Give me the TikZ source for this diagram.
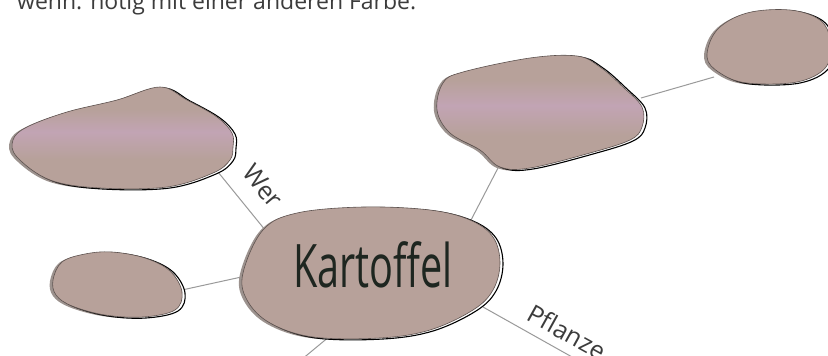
\documentclass[tikz,border=0pt]{standalone}
\usepackage{fontspec}
\usepackage{graphicx}
\setmainfont{Open Sans}
\definecolor{blobc}{HTML}{B7A19A}
\definecolor{pinkc}{HTML}{C2A4B4}
\definecolor{shadowc}{HTML}{9C928E}
\definecolor{edgec}{HTML}{5E5350}
\definecolor{linec}{HTML}{9A9A9A}
\definecolor{txtc}{HTML}{3C3C3C}
\definecolor{kartc}{HTML}{1E2620}
\pgfdeclareverticalshading{pinkband}{100bp}{color(0bp)=(blobc); color(40bp)=(blobc); color(53bp)=(pinkc); color(64bp)=(blobc); color(100bp)=(blobc)}
\newcommand{\drawblob}[2]{%
  \fill[shadowc, shift={(-3,1)}] plot[smooth cycle, tension=0.6] coordinates {#1};
  \draw[black, line width=1.1pt, fill=white, shift={(3,1)}] plot[smooth cycle, tension=0.6] coordinates {#1};
  \path[#2] plot[smooth cycle, tension=0.6] coordinates {#1};
  \draw[edgec, line width=0.6pt] plot[smooth cycle, tension=0.6] coordinates {#1};
}
\tikzset{
  conn/.style={draw=linec, line width=1pt},
  lbl/.style={font=\fontsize{23}{23}\selectfont, text=txtc, inner sep=0pt},
  elbl/.style={font=\fontsize{25}{25}\selectfont, text=txtc, inner sep=0pt},
  kart/.style={font=\fontsize{60}{60}\selectfont, text=kartc, inner sep=0pt},
}
\begin{document}
\begin{tikzpicture}[x=1pt,y=-1pt]
\useasboundingbox (0,0) rectangle (828,356);
\clip (0,0) rectangle (828,356);
\fill[white] (0,0) rectangle (828,356);

% heading text (clipped at top)
\node[lbl, anchor=base west] (head) at (17,9.5) {wenn: nötig mit einer anderen Farbe.};

% connector end points
\coordinate (a1) at (218,172); \coordinate (c1) at (270,236);
\coordinate (b1) at (182,290); \coordinate (c2) at (246,276);
\coordinate (d1) at (498,168); \coordinate (c3) at (470,222);
\coordinate (d2) at (641,98);  \coordinate (e1) at (714,77);
\coordinate (c4) at (483,307); \coordinate (p1) at (613,380);
\coordinate (c5) at (330,336); \coordinate (q1) at (295,365);

\draw[conn] (a1) -- (c1);
\draw[conn] (b1) -- (c2);
\draw[conn] (d1) -- (c3);
\draw[conn] (d2) -- (e1);
\draw[conn] (c4) -- (p1);
\draw[conn] (c5) -- (q1);

% blob A (top left)
\drawblob{(13,140) (27,127) (67,112) (117,100) (160,87) (187,100) (217,117) (232,133) (233,147) (230,160) (213,173) (167,187) (100,188) (50,180) (17,157)}{shading=pinkband}
% blob B (small left)
\drawblob{(53,280) (62,262) (85,254) (112,252) (145,258) (170,271) (182,292) (175,310) (143,317) (105,315) (72,306) (56,295)}{fill=blobc}
% blob C (center)
\drawblob{(243,273) (263,230) (297,213) (363,207) (430,210) (470,220) (493,237) (500,263) (493,290) (473,310) (430,330) (380,338) (313,337) (270,323) (247,300)}{fill=blobc}
% blob D (top middle)
\drawblob{(437,110) (443,83) (463,72) (530,58) (577,56) (600,67) (623,87) (642,107) (642,127) (630,140) (590,153) (530,168) (500,167) (480,150) (450,133)}{shading=pinkband}
% blob E (top right)
\drawblob{(707,57) (717,30) (747,13) (790,10) (820,20) (830,40) (826,67) (797,82) (747,83) (720,73)}{fill=blobc}

% labels
\node[elbl, rotate=-50] (wer) at (263,186) {Wer};
\node[elbl, rotate=-29] (pfl) at (567,332) {Pflanze};
\node[kart, anchor=base] (kart) at (373,287) {\scalebox{0.66}[1]{Kartoffel}};
\end{tikzpicture}
\end{document}
